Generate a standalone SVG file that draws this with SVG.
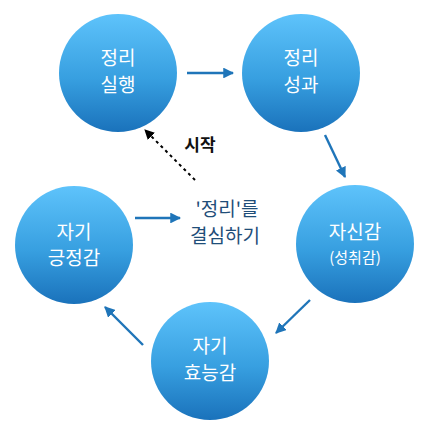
<svg xmlns="http://www.w3.org/2000/svg" width="442" height="437" viewBox="0 0 442 437">
<defs>
<linearGradient id="g" x1="0" y1="0" x2="0" y2="1">
<stop offset="0" stop-color="#5ec3fb"/>
<stop offset="0.55" stop-color="#379fe0"/>
<stop offset="1" stop-color="#1a72bb"/>
</linearGradient>
<marker id="ah" viewBox="0 0 10 10" refX="9" refY="5" markerWidth="4.5" markerHeight="4.5" markerUnits="strokeWidth" orient="auto">
<path d="M0,0 L10,5 L0,10 z" fill="#1f75b9"/>
</marker>
<marker id="ahk" viewBox="0 0 10 10" refX="9" refY="5" markerWidth="5" markerHeight="5" markerUnits="strokeWidth" orient="auto">
<path d="M0,0 L10,5 L0,10 z" fill="#000"/>
</marker>
</defs>
<style>
.c{fill:url(#g)}
.t{font-family:"Noto Sans CJK KR","Malgun Gothic",sans-serif;fill:#fff;font-size:19px;text-anchor:middle}
.s{font-size:15px}
.a{stroke:#1f75b9;stroke-width:2.4;fill:none;marker-end:url(#ah)}
.d{font-family:"Noto Sans CJK KR",sans-serif;fill:#1f4e79;font-size:19px;text-anchor:middle}
</style>
<rect width="442" height="437" fill="#fff"/>
<g id="connectors">
<line class="a" x1="187" y1="73" x2="233" y2="73"/>
<line class="a" x1="325" y1="135" x2="345" y2="177"/>
<line class="a" x1="310" y1="300" x2="276" y2="333"/>
<line class="a" x1="143" y1="345" x2="105" y2="307"/>
<line class="a" x1="135" y1="218" x2="180" y2="218"/>
<line x1="195" y1="180" x2="145" y2="130" stroke="#000" stroke-width="2" stroke-dasharray="3,3.5" marker-end="url(#ahk)"/>
</g>
<g id="n1"><circle class="c" cx="118" cy="73" r="59"/>
<text class="t" x="118" y="65">정리</text><text class="t" x="118" y="92">실행</text></g>
<g id="n2"><circle class="c" cx="301" cy="73" r="59"/>
<text class="t" x="301" y="65">정리</text><text class="t" x="301" y="92">성과</text></g>
<g id="n3"><circle class="c" cx="355" cy="244" r="59"/>
<text class="t" x="355" y="239">자신감</text><text class="t s" x="355" y="263">(성취감)</text></g>
<g id="n4"><circle class="c" cx="210" cy="361" r="59"/>
<text class="t" x="210" y="353">자기</text><text class="t" x="210" y="380">효능감</text></g>
<g id="n5"><circle class="c" cx="74" cy="245" r="59"/>
<text class="t" x="74" y="239">자기</text><text class="t" x="74" y="265">긍정감</text></g>
<g id="n6"><text class="d" x="227" y="216">'정리'를</text><text class="d" x="225" y="243">결심하기</text></g>
<g id="n7"><text x="200" y="151" font-family="'Noto Sans CJK KR',sans-serif" font-weight="bold" font-size="17" text-anchor="middle" fill="#111">시작</text></g>
</svg>
